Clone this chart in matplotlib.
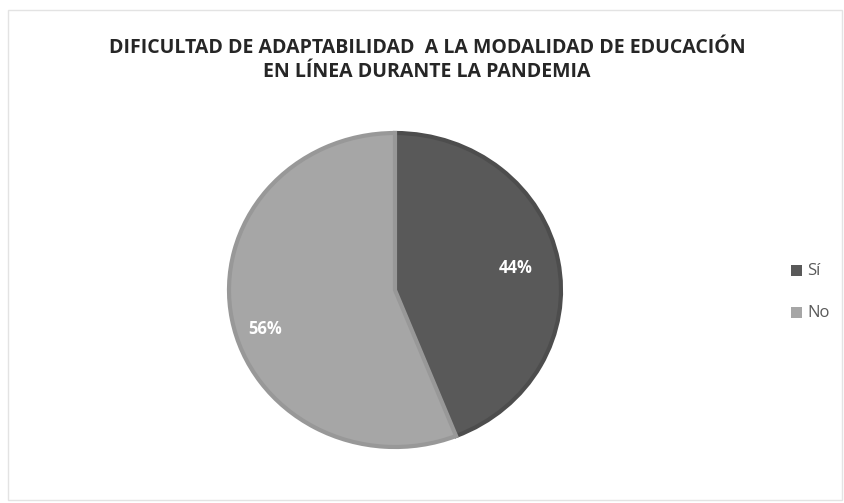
import matplotlib
matplotlib.use("Agg")
import matplotlib.pyplot as plt
from matplotlib.patches import Rectangle
import numpy as np

categories = ["Sí", "No"]
percentages = [44, 56]
colors = ["#595959", "#a6a6a6"]
edge_colors = ["#4d4d4d", "#989898"]
title = "DIFICULTAD DE ADAPTABILIDAD  A LA MODALIDAD DE EDUCACIÓN\nEN LÍNEA DURANTE LA PANDEMIA"

W, H = 844, 503
fig = plt.figure(figsize=(W / 100, H / 100), dpi=100)
fig.patch.set_facecolor("white")

# chart-area frame
fig.add_artist(Rectangle((8 / W, 3 / H), (W - 10) / W, (H - 13) / H,
                         transform=fig.transFigure, fill=False,
                         edgecolor="#e3e3e3", linewidth=1))

fig.text(427 / W, 1 - 60 / H, title, ha="center", va="center",
         fontsize=14, fontweight="bold", family="Open Sans",
         color="#262626", linespacing=1.3)

cx, cy, rx, ry = 395, 290, 166, 157
ax = fig.add_axes([(cx - rx) / W, 1 - (cy + ry) / H, 2 * rx / W, 2 * ry / H])
wedges, _ = ax.pie(percentages, colors=colors, startangle=90, counterclock=False,
                   wedgeprops=dict(linewidth=3))
for w, ec in zip(wedges, edge_colors):
    w.set_edgecolor(ec)
ax.set_xlim(-1, 1)
ax.set_ylim(-1, 1)
ax.set_aspect("auto")
ax.axis("off")

# percentage labels: placed from each slice's middle angle, with a
# small angular shift for the larger slice
start = 90.0
for pct, dist, shift in zip(percentages, [0.74, 0.82], [0.0, 7.0]):
    mid = start - pct * 3.6 / 2 + shift
    start -= pct * 3.6
    ang = np.deg2rad(mid)
    ax.text(dist * np.cos(ang), dist * np.sin(ang), f"{pct}%", ha="center",
            va="center", color="white", fontsize=12, fontweight="bold",
            family="Open Sans")

# legend
for i, (cat, col) in enumerate(zip(categories, colors)):
    y = 271 + i * 42
    fig.add_artist(Rectangle((791 / W, 1 - (y + 5) / H), 11 / W, 11 / H,
                             transform=fig.transFigure, facecolor=col,
                             edgecolor="none"))
    fig.text(807 / W, 1 - y / H, cat, ha="left", va="center", fontsize=12,
             family="Open Sans", color="#595959")

fig.savefig("out.png", dpi=100, facecolor="white")
